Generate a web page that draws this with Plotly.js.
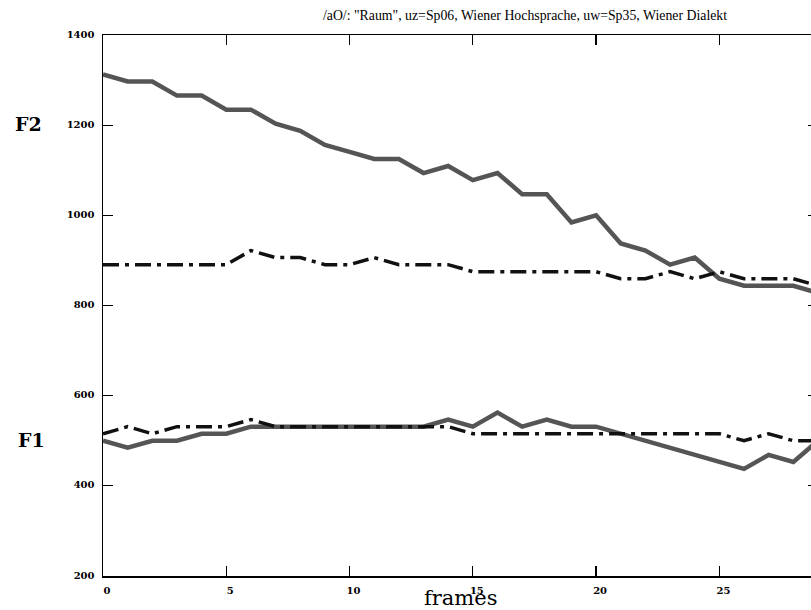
<!DOCTYPE html>
<html><head><meta charset="utf-8">
<script src="https://cdn.plot.ly/plotly-3.0.1.min.js"></script>
<style>html,body{margin:0;padding:0;overflow:hidden;background:#fff;}</style>
</head><body><div id="chart"></div>
<script>
const frames = [0,1,2,3,4,5,6,7,8,9,10,11,12,13,14,15,16,17,18,19,20,21,22,23,24,25,26,27,28,29];
const f2Hoch = [1312.5,1296.9,1296.9,1265.6,1265.6,1234.4,1234.4,1203.1,1187.5,1156.25,1140.6,1125,1125,1093.75,1109.4,1078.1,1093.75,1046.9,1046.9,984.4,1000,937.5,921.9,890.6,906.25,859.4,843.75,843.75,843.75,828.1];
const f2Dial = [890.6,890.6,890.6,890.6,890.6,890.6,921.9,906.25,906.25,890.6,890.6,906.25,890.6,890.6,890.6,875,875,875,875,875,875,859.4,859.4,875,859.4,875,859.4,859.4,859.4,843.75];
const f1Hoch = [500,484.4,500,500,515.6,515.6,531.25,531.25,531.25,531.25,531.25,531.25,531.25,531.25,546.9,531.25,562.5,531.25,546.9,531.25,531.25,515.6,500,484.4,468.75,453.1,437.5,468.75,453.1,500];
const f1Dial = [515.6,531.25,515.6,531.25,531.25,531.25,546.9,531.25,531.25,531.25,531.25,531.25,531.25,531.25,531.25,515.6,515.6,515.6,515.6,515.6,515.6,515.6,515.6,515.6,515.6,515.6,500,515.6,500,500];
const yTicks = [200,400,600,800,1000,1200,1400];
const xTicks = [0,5,10,15,20,25];
const titleText = '/aO/: "Raum", uz=Sp06, Wiener Hochsprache, uw=Sp35, Wiener Dialekt';

const times = '"Liberation Serif", "DejaVu Serif", serif';
const wide = '"DejaVu Serif", "Liberation Serif", serif';
const solid = {color:'#555555', width:4.5};
const dashd = {color:'#111111', width:3.5, dash:'16px,6px,4px,6px'};

const traces = [
  {x:frames, y:f2Hoch, mode:'lines', line:solid},
  {x:frames, y:f2Dial, mode:'lines', line:dashd},
  {x:frames, y:f1Hoch, mode:'lines', line:solid},
  {x:frames, y:f1Dial, mode:'lines', line:dashd}
];

const axisCommon = {
  showline:true, linecolor:'#000', linewidth:1.5, mirror:'ticks',
  ticks:'inside', ticklen:10, tickwidth:1.3, tickcolor:'#000',
  showgrid:false, zeroline:false, fixedrange:true,
  tickfont:{family:wide, size:10, color:'#000', weight:'bold'}
};

const W = 830, L = 103, R = 12, T = 35, B = 34, H = 610;
const pw = W - L - R, ph = H - T - B;

const layout = {
  width:W, height:H,
  margin:{l:L, r:R, t:T, b:B},
  paper_bgcolor:'#fff', plot_bgcolor:'#fff',
  showlegend:false,
  title:{text:titleText, font:{family:times, size:13.8, color:'#000'},
         xref:'container', x:525/W, xanchor:'center', yref:'container', y:1-15/H, yanchor:'middle'},
  xaxis:Object.assign({}, axisCommon, {range:[0,29], tickmode:'array', tickvals:xTicks,
         ticktext:xTicks.map(String), ticklabelshift:4, ticklabelstandoff:4}),
  yaxis:Object.assign({}, axisCommon, {range:[200,1400], tickmode:'array', tickvals:yTicks,
         ticktext:yTicks.map(String), ticklabelstandoff:5, ticklabelshift:-1}),
  annotations:[
    {text:'frames', xref:'paper', yref:'paper', x:(460-L)/pw, y:(576-598)/ph, xanchor:'center', yanchor:'middle',
     showarrow:false, font:{family:wide, size:21, color:'#000'}},
    {text:'<b>F2</b>', xref:'paper', yref:'paper', x:(28-L)/pw, y:(576-124)/ph, xanchor:'center', yanchor:'middle',
     showarrow:false, font:{family:wide, size:19, color:'#000'}},
    {text:'<b>F1</b>', xref:'paper', yref:'paper', x:(31-L)/pw, y:(576-440)/ph, xanchor:'center', yanchor:'middle',
     showarrow:false, font:{family:wide, size:19, color:'#000'}}
  ]
};

Plotly.newPlot('chart', traces, layout, {staticPlot:true, displayModeBar:false});
</script></body></html>
